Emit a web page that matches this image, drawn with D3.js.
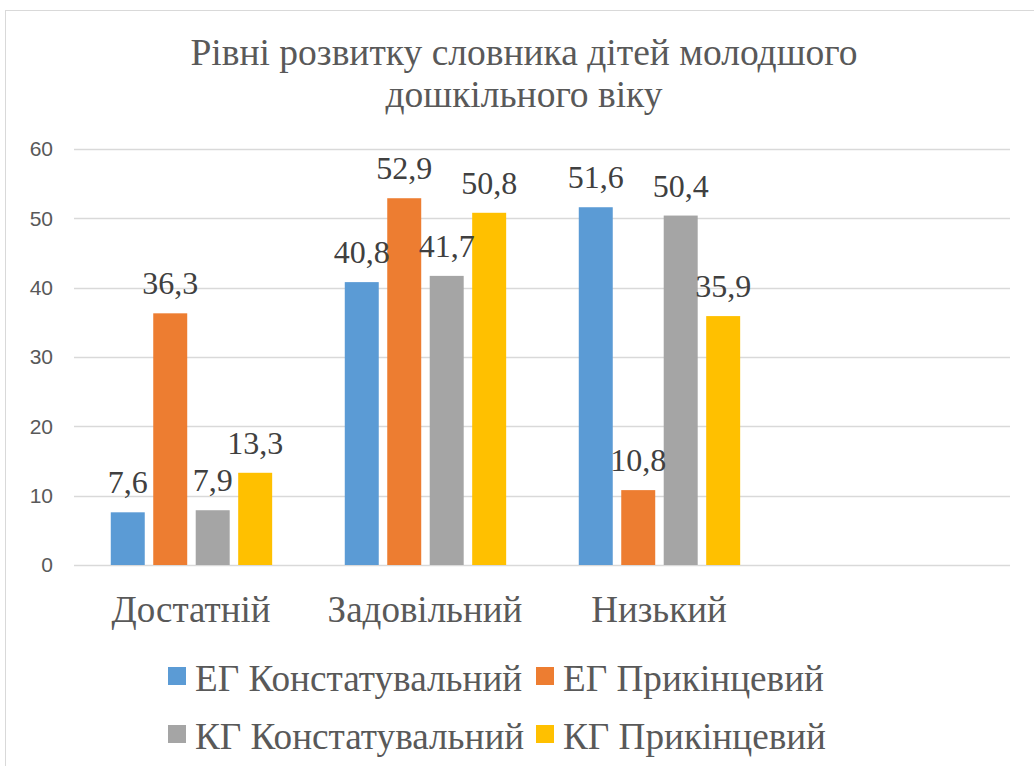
<!DOCTYPE html>
<html>
<head>
<meta charset="utf-8">
<script src="https://cdn.jsdelivr.net/npm/d3@7"></script>
</head>
<body style="margin:0">
<div id="chart_div"></div>
<script>
// chart data
var categories = ["Достатній", "Задовільний", "Низький", ""];
var seriesNames = ["ЕГ Констатувальний", "ЕГ Прикінцевий", "КГ Констатувальний", "КГ Прикінцевий"];
var egStart = [7.6, 40.8, 51.6];
var egFinal = [36.3, 52.9, 10.8];
var kgStart = [7.9, 41.7, 50.4];
var kgFinal = [13.3, 50.8, 35.9];
var yTicks = [0, 10, 20, 30, 40, 50, 60];
var titleLines = ["Рівні розвитку словника дітей молодшого", "дошкільного віку"];

var colors = ["#5B9BD5", "#ED7D31", "#A5A5A5", "#FFC000"];
var seriesValues = [egStart, egFinal, kgStart, kgFinal];

var W = 1034, H = 766;

var svg = d3.select("#chart_div")
  .append("svg")
  .attr("width", W)
  .attr("height", H)
  .attr("font-family", "Liberation Serif");

// chart border
svg.append("rect")
  .attr("x", 5.5).attr("y", 10.5)
  .attr("width", W + 20).attr("height", H + 20)
  .attr("fill", "none")
  .attr("stroke", "#D9D9D9");

// title
svg.append("g")
  .selectAll("text")
  .data(titleLines)
  .enter()
  .append("text")
  .attr("x", 524)
  .attr("y", function(d, i) { return 65 + i * 42; })
  .attr("text-anchor", "middle")
  .attr("font-family", "Liberation Serif")
  .attr("font-size", "37.5px")
  .attr("fill", "#595959")
  .text(function(d) { return d; });

// scales
var x0 = d3.scaleBand()
  .domain(categories)
  .range([74, 1010]);

var bw = x0.bandwidth();
var x1 = d3.scaleBand()
  .domain(seriesNames)
  .range([bw * 0.139, bw * 0.865])
  .paddingInner(0.2)
  .paddingOuter(0.1);

var y = d3.scaleLinear()
  .domain([0, 60])
  .range([565, 149]);

// gridlines
svg.append("g")
  .selectAll("line")
  .data(yTicks)
  .enter()
  .append("line")
  .attr("x1", 74).attr("x2", 1010)
  .attr("y1", function(d) { return Math.round(y(d)) + 0.5; })
  .attr("y2", function(d) { return Math.round(y(d)) + 0.5; })
  .attr("stroke", "#D9D9D9")
  .attr("stroke-width", 1.5);

// y axis labels
var yAxis = svg.append("g")
  .attr("transform", "translate(64,0)")
  .call(d3.axisLeft(y).tickValues(yTicks).tickSize(0).tickPadding(11));
yAxis.select(".domain").remove();
yAxis.attr("font-family", "Liberation Sans").attr("font-size", "21px");
yAxis.selectAll("text")
  .attr("fill", "#595959");

// x axis labels
var xAxis = svg.append("g")
  .attr("transform", "translate(0,565)")
  .call(d3.axisBottom(x0).tickSize(0).tickPadding(31));
xAxis.select(".domain").remove();
xAxis.attr("font-family", "Liberation Serif").attr("font-size", "37px");
xAxis.selectAll("text")
  .attr("fill", "#595959");

// bars
var barData = [];
categories.forEach(function(c, ci) {
  seriesNames.forEach(function(s, si) {
    var v = seriesValues[si][ci];
    if (v !== undefined) barData.push({ cat: c, series: s, si: si, value: v });
  });
});

var groups = svg.append("g");
groups.selectAll("rect")
  .data(barData)
  .enter()
  .append("rect")
  .attr("x", function(d) { return x0(d.cat) + x1(d.series); })
  .attr("y", function(d) { return y(d.value); })
  .attr("width", x1.bandwidth())
  .attr("height", function(d) { return y(0) - y(d.value); })
  .attr("fill", function(d) { return colors[d.si]; });

// data labels
groups.selectAll("text")
  .data(barData)
  .enter()
  .append("text")
  .attr("x", function(d) { return x0(d.cat) + x1(d.series) + x1.bandwidth() / 2; })
  .attr("y", function(d) { return y(d.value) - 19; })
  .attr("text-anchor", "middle")
  .attr("font-family", "Liberation Serif")
  .attr("font-size", "32px")
  .attr("fill", "#404040")
  .text(function(d) { return String(d.value).replace(".", ","); });

// legend
var legendPos = [[168, 667], [536, 667], [168, 725], [536, 725]];
var legend = svg.append("g")
  .selectAll("g")
  .data(seriesNames)
  .enter()
  .append("g")
  .attr("transform", function(d, i) { return "translate(" + legendPos[i][0] + "," + legendPos[i][1] + ")"; });

legend.append("rect")
  .attr("width", 18).attr("height", 18)
  .attr("fill", function(d, i) { return colors[i]; });

legend.append("text")
  .attr("x", 27)
  .attr("y", 24)
  .attr("font-family", "Liberation Serif")
  .attr("font-size", "37.2px")
  .attr("fill", "#595959")
  .text(function(d) { return d; });
</script>
</body>
</html>
